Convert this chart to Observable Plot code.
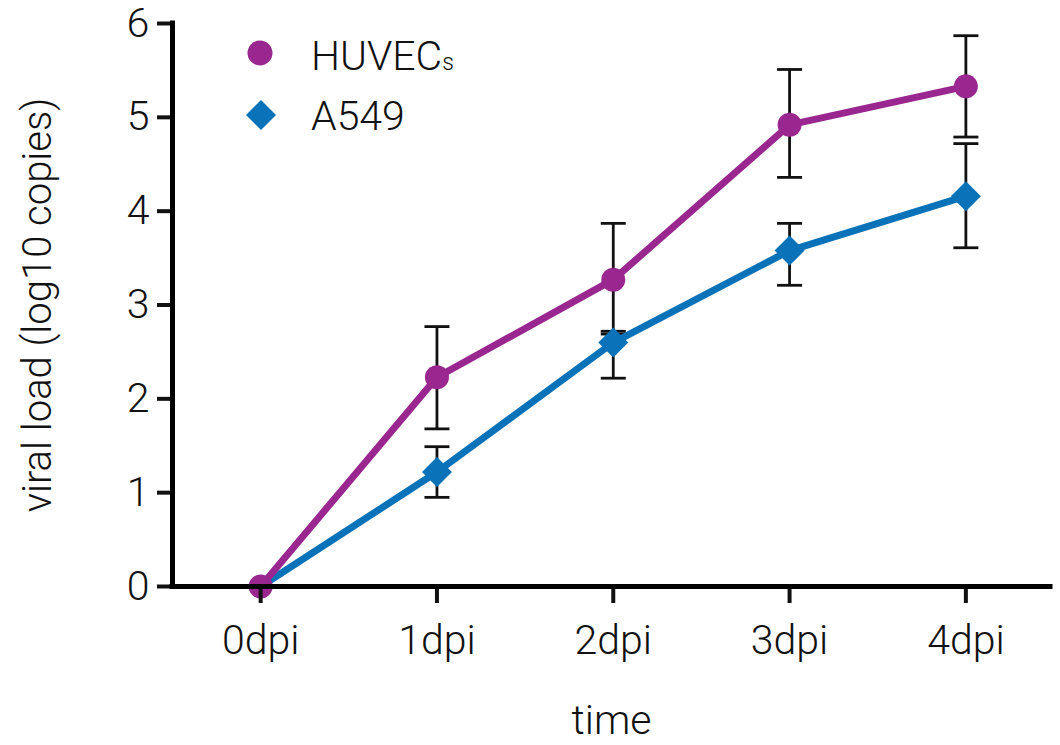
<!DOCTYPE html>
<html>
<head>
<meta charset="utf-8">
<script src="https://cdn.jsdelivr.net/npm/d3@7"></script>
<script src="https://cdn.jsdelivr.net/npm/@observablehq/plot@0.6"></script>
<style>
  html, body { margin: 0; padding: 0; background: #fff; }
  #chart { width: 1060px; height: 745px; }
</style>
</head>
<body>
<div id="chart"></div>
<script>
// ---- data ----
const days = [0, 1, 2, 3, 4];
const dayLabels = ["0dpi", "1dpi", "2dpi", "3dpi", "4dpi"];

const huvecMean = [0, 2.23, 3.27, 4.92, 5.33];
const huvecLow  = [0, 1.68, 2.72, 4.36, 4.79];
const huvecHigh = [0, 2.77, 3.87, 5.51, 5.87];

const a549Mean = [0, 1.22, 2.60, 3.58, 4.16];
const a549Low  = [0, 0.95, 2.22, 3.21, 3.61];
const a549High = [0, 1.49, 2.69, 3.87, 4.72];

const seriesNames = ["HUVEC", "A549"];
const yTicks = [0, 1, 2, 3, 4, 5, 6];
const yTickLabels = ["0", "1", "2", "3", "4", "5", "6"];

const purple = "#9a278f";
const blue = "#0a72b8";

// ---- build tables ----
function rowsFor(name, mean, low, high) {
  return days.map((d, i) => ({series: name, day: d, mean: mean[i], low: low[i], high: high[i]}));
}
const huvec = rowsFor(seriesNames[0], huvecMean, huvecLow, huvecHigh);
const a549 = rowsFor(seriesNames[1], a549Mean, a549Low, a549High);
const errRows = [...huvec, ...a549].filter(d => d.high > d.low);

const capSymbol = {
  draw(context) {
    context.moveTo(-12.5, 0);
    context.lineTo(12.5, 0);
  }
};

const plot = Plot.plot({
  width: 1060,
  height: 745,
  marginLeft: 172,
  marginRight: 10,
  marginTop: 23,
  marginBottom: 159,
  style: {fontFamily: "Roboto, sans-serif", fontWeight: 300, fontSize: "41px", color: "#111", background: "#fff"},
  x: {domain: [-0.5, 4.48]},
  y: {domain: [0, 6]},
  marks: [
    // error bars
    Plot.ruleX(errRows, {x: "day", y1: "low", y2: "high", stroke: "#111", strokeWidth: 2.8}),
    Plot.dot(errRows, {x: "day", y: "low", symbol: capSymbol, fill: "none", stroke: "#111", strokeWidth: 2.8}),
    Plot.dot(errRows, {x: "day", y: "high", symbol: capSymbol, fill: "none", stroke: "#111", strokeWidth: 2.8}),
    // lines
    Plot.line(a549, {x: "day", y: "mean", stroke: blue, strokeWidth: 7}),
    Plot.line(huvec, {x: "day", y: "mean", stroke: purple, strokeWidth: 7}),
    // markers
    Plot.dot(a549.filter(d => d.day > 0), {x: "day", y: "mean", symbol: "diamond2", r: 13.5, fill: blue}),
    Plot.dot(huvec, {x: "day", y: "mean", r: 12, fill: purple}),
    // axes
    Plot.axisY({ticks: yTicks, tickFormat: (d, i) => yTickLabels[i], tickSize: 15, tickPadding: 8, strokeWidth: 4, label: null, fontSize: 41}),
    Plot.axisX({ticks: days, tickFormat: (d, i) => dayLabels[i], tickSize: 17, tickPadding: 21, strokeWidth: 4, label: null, fontSize: 41}),
    Plot.ruleX([-0.5], {stroke: "#000", strokeWidth: 5, strokeLinecap: "square"}),
    Plot.ruleY([0], {stroke: "#000", strokeWidth: 5, strokeLinecap: "square"}),
    // axis titles
    Plot.text(["time"], {frameAnchor: "bottom", dy: 147, fontSize: 41}),
    Plot.text(["viral load (log10 copies)"], {frameAnchor: "left", textAnchor: "middle", rotate: -90, dx: -134, fontSize: 40})
  ]
});

// legend
const svg = d3.select(plot);
const lg = svg.append("g").attr("font-family", "Roboto, sans-serif").attr("font-weight", 300).attr("fill", "#111").attr("text-anchor", "start");
lg.append("circle").attr("cx", 260).attr("cy", 53).attr("r", 12.5).attr("fill", purple);
lg.append("path").attr("d", d3.symbol().type(d3.symbolDiamond2).size(Math.PI * 13.5 * 13.5)()).attr("transform", "translate(261,115)").attr("fill", blue);
const t1 = lg.append("text").attr("x", 311).attr("y", 70).attr("font-size", 41);
t1.append("tspan").text(seriesNames[0]);
t1.append("tspan").attr("font-size", 23).text("s");
lg.append("text").attr("x", 311).attr("y", 130).attr("font-size", 41).text(seriesNames[1]);

document.getElementById("chart").appendChild(plot);
</script>
</body>
</html>
